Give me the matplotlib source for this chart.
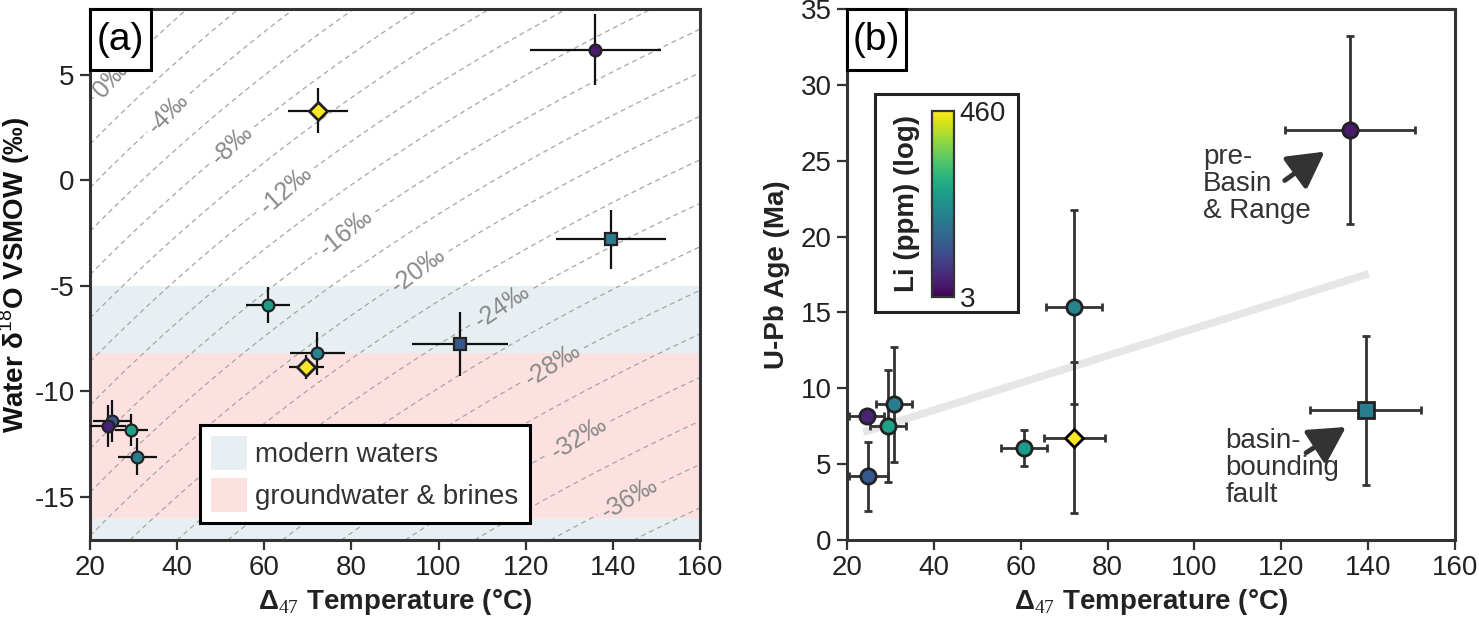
import numpy as np
import matplotlib
matplotlib.use('Agg')
import matplotlib.pyplot as plt
from matplotlib.colors import LogNorm
from matplotlib.patches import Rectangle, Patch
from matplotlib.cm import ScalarMappable

plt.rcParams['font.family'] = ['Liberation Sans', 'DejaVu Sans']
plt.rcParams['font.size'] = 20
plt.rcParams['axes.unicode_minus'] = False
plt.rcParams['mathtext.fontset'] = 'custom'
plt.rcParams['mathtext.rm'] = 'Liberation Serif'
plt.rcParams['mathtext.sf'] = 'Liberation Sans'
plt.rcParams['mathtext.bf'] = 'Liberation Sans:bold'
plt.rcParams['lines.dashed_pattern'] = [4.0, 3.0]

# ---- panel (a): clumped temperature vs water d18O ----
a_temp = [136.0, 72.3, 139.6, 60.8, 72.2, 69.6, 104.9, 25.1, 24.2, 29.5, 30.9]
a_temp_err = [15.0, 6.8, 12.7, 5.1, 6.3, 4.0, 11.0, 4.5, 4.1, 3.8, 4.4]
a_d18o = [6.2, 3.3, -2.8, -5.9, -8.2, -8.85, -7.75, -11.4, -11.64, -11.82, -13.09]
a_d18o_err = [1.7, 1.07, 1.38, 0.87, 1.0, 0.56, 1.52, 1.0, 1.0, 0.75, 0.87]
a_li = [4.3, 460, 24.8, 47.8, 28.9, 460, 11.7, 11.7, 5.0, 53.0, 24.8]
a_marker = ['o', 'D', 's', 'o', 'o', 'D', 's', 'o', 'o', 'o', 'o']

# calcite d18O (VPDB) isolines, every 2 permil; labelled every 4
iso_levels = np.arange(-40, 7, 2)
iso_labelled = [-36, -32, -28, -24, -20, -16, -12, -8, -4, 0]
iso_label_temp = [143.8, 132.2, 126.2, 114.7, 95.4, 78.8, 64.9, 52.6, 38.0, 24.8]

modern_waters = (-20.0, -5.0)
groundwater = (-16.0, -8.2)

# ---- panel (b): clumped temperature vs U-Pb age ----
b_temp = [135.8, 139.4, 72.3, 72.3, 60.7, 24.5, 29.4, 30.8, 24.9]
b_temp_err = [15.0, 12.7, 6.5, 7.0, 5.3, 4.1, 4.2, 4.2, 4.5]
b_age = [27.0, 8.55, 15.35, 6.75, 6.07, 8.16, 7.5, 8.95, 4.19]
b_age_err = [6.2, 4.9, 6.4, 5.0, 1.18, 0.0, 3.7, 3.8, 2.3]
b_li = [4.3, 24.8, 28.9, 460, 47.8, 5.0, 53.0, 24.8, 11.7]
b_marker = ['o', 's', 'o', 'D', 'o', 'o', 'o', 'o', 'o']

trend_temp = [23.75, 140.1]
trend_age = [7.1, 17.55]

li_min, li_max = 3, 460
norm = LogNorm(li_min, li_max)
cmap = plt.get_cmap('viridis')

dark = '#333333'


def water_from_calcite(temp_c, d18o_calcite):
    alpha_term = 18.03e3 / (np.asarray(temp_c) + 273.15) - 34.37
    return 1.03091 * d18o_calcite + 30.91 - alpha_term


fig = plt.figure(figsize=(14.79, 6.22), dpi=100)
ax_a = fig.add_axes([0.06085, 0.1318, 0.41244, 0.8537])
ax_b = fig.add_axes([0.57268, 0.1318, 0.4111, 0.8537])

for ax in (ax_a, ax_b):
    for sp in ax.spines.values():
        sp.set_linewidth(2.2)
        sp.set_color(dark)
    ax.tick_params(direction='out', length=7, width=1.6, color=dark,
                   labelsize=20, pad=4, labelcolor='#222222')
    ax.set_xlim(20, 160)
    ax.set_xticks(np.arange(20, 161, 20))
    ax.set_xlabel(r'Δ$_{\mathrm{47}}$ Temperature (°C)', fontweight='bold',
                  color='#222222', labelpad=4)

# panel (a)
ax_a.set_ylim(-17.04, 8.12)
ax_a.set_yticks([-15, -10, -5, 0, 5])
ax_a.set_ylabel(r'Water δ$^{\mathsf{18}}$O VSMOW (‰)', fontweight='bold',
                color='#111111', labelpad=2)

ax_a.axhspan(*modern_waters, color='#e7eff2', lw=0, zorder=0)
ax_a.axhspan(*groundwater, color='#fde1e1', lw=0, zorder=0)

tt, ww = np.meshgrid(np.linspace(20, 160, 300), np.linspace(-17.04, 8.12, 300))
zz = (ww - water_from_calcite(tt, 0.0)) / 1.03091
plain_levels = [lv for lv in iso_levels if lv not in iso_labelled]
ax_a.contour(tt, ww, zz, levels=plain_levels, colors='#a6a6a6',
             linewidths=0.9, linestyles='dashed', zorder=1)
cs = ax_a.contour(tt, ww, zz, levels=iso_labelled, colors='#a6a6a6',
                  linewidths=0.9, linestyles='dashed', zorder=1)
label_pos = [(t, float(water_from_calcite(t, lv)))
             for t, lv in zip(iso_label_temp, iso_labelled)]
labels = ax_a.clabel(cs, manual=label_pos, inline=True,
                     inline_spacing=5, fontsize=18, colors='#8a8a8a',
                     fmt=lambda v: f'{v:.0f}‰')
for lab in labels:
    lab.set_rotation(lab.get_rotation() + 4)

for i in range(len(a_temp)):
    is_d = a_marker[i] == 'D'
    ax_a.errorbar(a_temp[i], a_d18o[i], xerr=a_temp_err[i], yerr=a_d18o_err[i],
                  fmt=a_marker[i], ms=9 if is_d else 8.5,
                  mfc=cmap(norm(a_li[i])), mec='#222222',
                  mew=2 if is_d else 1.6,
                  ecolor='#111111', elinewidth=1.6, capsize=0, zorder=3)

leg = ax_a.legend(handles=[Patch(fc='#e7eff2', ec='none', label='modern waters'),
                           Patch(fc='#fde1e1', ec='none', label='groundwater & brines')],
                  loc='lower left', bbox_to_anchor=(0.18, 0.032), borderaxespad=0,
                  fancybox=False, framealpha=1, edgecolor='black',
                  handlelength=1.3, handleheight=1.5, handletextpad=0.3,
                  labelspacing=0.3, borderpad=0.4, fontsize=20)
leg.get_frame().set_linewidth(2.2)
for txt in leg.get_texts():
    txt.set_color('#333333')
leg.set_zorder(5)

# panel (b)
ax_b.set_ylim(0, 35)
ax_b.set_yticks(np.arange(0, 36, 5))
ax_b.set_ylabel('U-Pb Age (Ma)', fontweight='bold', color='#222222', labelpad=8)

ax_b.plot(trend_temp, trend_age, color='#e6e6e6', lw=5.5,
          solid_capstyle='butt', zorder=1)

for i in range(len(b_temp)):
    is_d = b_marker[i] == 'D'
    ax_b.errorbar(b_temp[i], b_age[i], xerr=b_temp_err[i],
                  yerr=b_age_err[i] if b_age_err[i] > 0 else None,
                  fmt=b_marker[i], ms=9.5 if is_d else 11,
                  mfc=cmap(norm(b_li[i])), mec='#222222' if not is_d else 'black',
                  mew=2, ecolor=dark, elinewidth=2, capsize=3, capthick=2,
                  zorder=3)

arrow_style = dict(arrowstyle='-|>,head_length=1.0,head_width=0.55',
                   color=dark, lw=3.5, shrinkA=0, shrinkB=0, mutation_scale=22)
ax_b.text(102, 26.1, 'pre-\nBasin\n& Range', ha='left', va='top',
          fontsize=20, color=dark, linespacing=1.05)
ax_b.annotate('', xy=(130.0, 25.6), xytext=(120.8, 23.7), arrowprops=arrow_style)
ax_b.text(107.1, 7.4, 'basin-\nbounding\nfault', ha='left', va='top',
          fontsize=20, color=dark, linespacing=1.05)
ax_b.annotate('', xy=(134.9, 7.45), xytext=(125.7, 5.75), arrowprops=arrow_style)

# colour bar in a framed box
ax_b.add_patch(Rectangle((0.046, 0.4296), 0.235, 0.411, transform=ax_b.transAxes,
                         fc='white', ec='#222222', lw=2.2, zorder=4))
cax = ax_b.inset_axes([0.139, 0.458, 0.0375, 0.35])
cb = fig.colorbar(ScalarMappable(norm=norm, cmap=cmap), cax=cax, ticks=[li_min, li_max])
cb.minorticks_off()
cb.ax.set_yticklabels([str(li_min), str(li_max)])
cb.ax.tick_params(which='both', length=0, pad=4, labelsize=20, labelcolor='#222222')
cb.outline.set_linewidth(1.6)
cb.outline.set_edgecolor(dark)
cb.set_label('Li (ppm) (log)', fontweight='bold', color='#222222', labelpad=8)
cb.ax.yaxis.set_label_position('left')

# panel letters
for ax, letter, w, h in ((ax_a, '(a)', 0.1, 0.115), (ax_b, '(b)', 0.097, 0.115)):
    ax.add_patch(Rectangle((0, 1 - h), w, h, transform=ax.transAxes,
                           fc='white', ec='black', lw=2.2, zorder=6, clip_on=False))
    ax.text(w / 2, 1 - h / 2, letter, transform=ax.transAxes, ha='center',
            va='center', fontsize=28, zorder=7)

fig.savefig('out.png', dpi=100)
